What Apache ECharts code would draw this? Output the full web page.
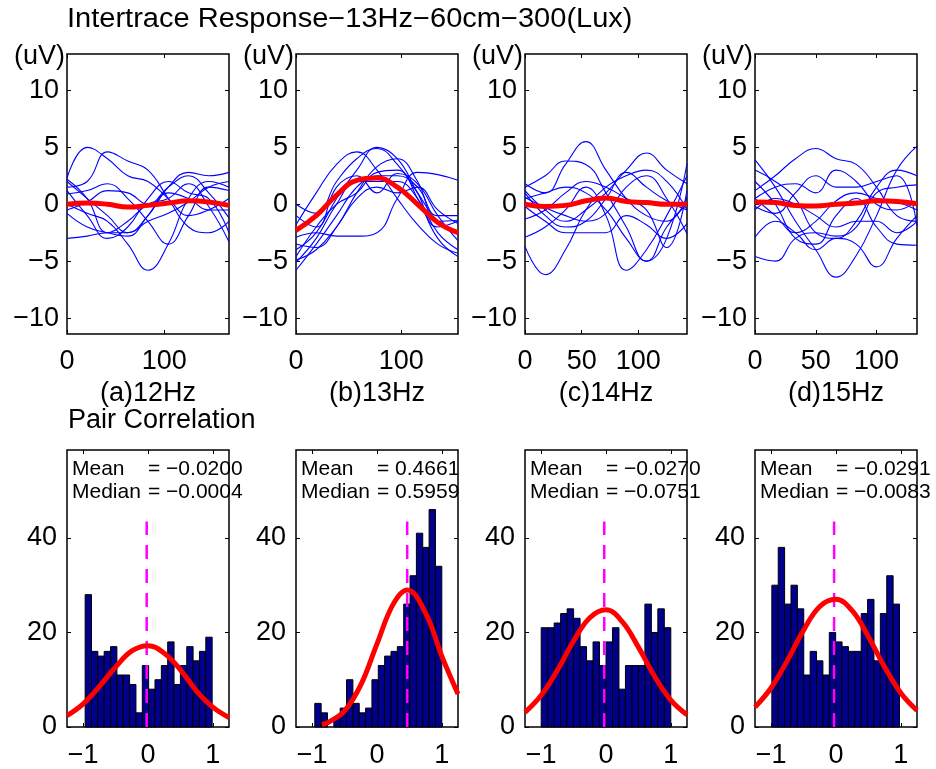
<!DOCTYPE html>
<html><head><meta charset="utf-8">
<script src="https://cdn.jsdelivr.net/npm/echarts@6/dist/echarts.min.js"></script>
<style>html,body{margin:0;padding:0;background:#fff}#c{width:936px;height:769px}</style>
</head><body><div id="c"></div>
<script>
// ---------- data ----------
const chartTitle = 'Intertrace Response\u221213Hz\u221260cm\u2212300(Lux)';
const histTitle = 'Pair Correlation';
const freqs = [12, 13, 14, 15];
const panelLetters = ['a', 'b', 'c', 'd'];
const yUnit = '(uV)';

const timeMax = [166.7, 153.8, 142.9, 133.3];
const timeTicks = [[0, 100], [0, 100], [0, 50, 100], [0, 50, 100]];
const respTicks = [-10, -5, 0, 5, 10];
const respRange = [-11.4, 13.2];

const t12 = [0, 20.8, 41.7, 62.5, 83.3, 104.2, 125, 145.8, 166.7];
const t13 = [0, 19.2, 38.5, 57.7, 76.9, 96.2, 115.4, 134.6, 153.8];
const t14 = [0, 17.9, 35.7, 53.6, 71.4, 89.3, 107.1, 125, 142.9];
const t15 = [0, 16.7, 33.3, 50, 66.7, 83.3, 100, 116.7, 133.3];

const traces12 = [
  [2.3, 5.0, 4.0, 2.5, 2.0, 0.5, -1.0, -0.5, 0.5],
  [1.5, 2.0, 4.6, 3.8, 3.0, 0.5, -2.0, -2.5, -1.5],
  [2.0, 0.5, -1.0, -2.5, -1.0, 1.5, 2.8, 2.5, 2.8],
  [0.9, 1.2, 1.8, 0.5, -1.5, -3.5, -1.0, 1.5, 1.2],
  [0.0, -0.8, -1.5, -3.5, -5.8, -3.5, 0.5, 2.0, 1.5],
  [-0.5, 0.2, 1.2, 1.0, 0.0, 1.5, 2.5, 1.0, -1.2],
  [-0.8, -2.0, -2.5, -2.8, -1.0, 1.0, 0.5, -0.5, -0.5],
  [-3.0, -2.8, -2.5, -2.5, -1.5, -0.8, 0.2, 1.5, 2.0],
  [1.2, -1.0, -3.0, -2.0, 0.5, 2.0, 1.0, 0.5, -2.5],
  [2.2, 0.5, -2.5, -1.5, 0.0, 0.5, 1.8, -0.2, -3.3]
];
const traces13 = [
  [0.0, -0.8, 2.0, 4.0, 4.9, 3.5, 1.0, -1.5, -2.5],
  [-1.8, 1.0, 3.5, 4.6, 3.0, 0.5, -1.8, -3.5, -4.3],
  [-4.0, -2.5, 0.5, 3.0, 5.0, 4.0, 1.0, -2.0, -1.5],
  [-2.9, -2.5, -2.8, -2.8, -2.5, 0.5, 2.8, 2.6, 2.1],
  [-4.6, -2.0, 0.0, 1.0, 2.8, 3.0, 0.5, -3.0, -4.6],
  [-5.8, -3.5, -1.0, 1.5, 2.5, 2.5, 1.5, -1.0, -1.0],
  [-4.9, -4.0, -2.0, 0.5, 1.5, 1.0, 1.5, -0.5, -1.7],
  [-5.1, -3.0, 0.0, 2.0, 2.0, 2.0, 0.5, -2.5, -4.0],
  [-1.0, -2.0, 1.5, 2.5, 1.0, 2.7, 1.8, -1.0, -3.2],
  [-3.5, -3.8, -2.0, 1.0, 3.3, 4.0, 2.0, -1.5, -1.4]
];
const traces14 = [
  [1.8, 1.0, 3.5, 5.5, 3.0, 0.5, -1.0, -1.5, 0.6],
  [-3.7, -6.2, -4.0, -0.5, 1.5, 2.5, 3.0, 2.0, -0.5],
  [1.5, 2.5, 3.8, 3.5, 1.0, -2.0, -5.0, -3.0, 3.6],
  [1.2, -0.5, -1.5, -0.5, 1.0, 3.0, 4.5, 3.0, 1.8],
  [-2.9, -2.0, -0.5, 1.5, -1.0, -5.8, -4.0, -1.0, 2.5],
  [0.6, -0.3, -1.0, -1.5, -0.8, 1.5, 2.5, 0.5, -2.6],
  [-0.2, -1.5, -2.5, -2.5, -2.5, -1.0, -1.8, -3.0, -1.7],
  [-1.3, -0.5, 1.0, 2.0, 1.5, 0.5, -0.5, -3.8, 1.2],
  [0.5, 1.0, 1.5, 1.0, -0.5, -3.0, -5.0, -2.0, 0.0],
  [1.0, -1.0, -2.0, -1.5, 0.5, 2.8, 1.5, 0.3, -0.5]
];
const traces15 = [
  [3.9, 1.5, -1.5, -4.0, -6.4, -4.5, -1.0, 3.0, 5.1],
  [3.0, 2.0, 0.5, -2.5, -3.0, -1.5, 1.5, 3.0, 2.5],
  [1.2, 2.5, 4.0, 4.9, 4.0, 3.5, 1.5, -1.0, -1.5],
  [-4.6, -5.0, -3.0, -2.5, -2.8, -2.0, 1.0, 1.5, 1.7],
  [-2.9, -1.5, -2.5, -4.0, -3.0, -3.5, -5.5, -3.0, -1.0],
  [0.5, 1.5, 1.8, 1.0, 3.0, 2.0, 0.0, -0.5, 0.3],
  [-0.2, -0.8, 1.0, 2.5, 1.5, 1.5, 2.0, 2.5, -1.9],
  [-0.5, 0.5, 0.0, -1.0, -2.0, -1.5, -1.5, -2.5, -1.5],
  [0.5, -1.0, -2.5, -1.5, 0.3, 1.0, 0.5, 0.2, -0.5],
  [2.0, 0.0, -3.0, -3.5, -1.0, 0.5, -2.0, -3.5, -3.6]
];
const meanResp12 = [0.0, 0.1, 0.0, -0.25, -0.1, 0.1, 0.3, 0.2, -0.1];
const meanResp13 = [-2.3, -1.0, 0.8, 2.1, 2.3, 1.5, 0.0, -1.6, -2.5];
const meanResp14 = [0.0, -0.2, -0.1, 0.3, 0.55, 0.25, 0.15, 0.0, 0.0];
const meanResp15 = [0.2, 0.15, -0.1, -0.15, 0.0, 0.1, 0.3, 0.25, 0.05];

const corrRange = [-1.25, 1.25];
const corrTicks = [-1, 0, 1];
const countTicks = [0, 20, 40];
const countRange = [0, 58.6];
const binLo = [-0.97, -0.96, -1.0, -0.99];
const binHi = [0.99, 1.0, 1.0, 0.98];
const counts12 = [28, 16, 15, 16, 17, 11, 11, 9, 3, 13, 8, 10, 13, 18, 9, 13, 17, 14, 16, 19];
const counts13 = [5, 3, 0, 2, 4, 10, 5, 3, 4, 10, 13, 15, 16, 17, 26, 32, 41, 38, 46, 34];
const counts14 = [21, 21, 22, 24, 25, 23, 17, 14, 18, 13, 18, 21, 8, 13, 13, 13, 26, 20, 25, 21];
const counts15 = [30, 38, 26, 30, 25, 11, 16, 14, 11, 20, 18, 17, 16, 16, 24, 27, 14, 24, 32, 26];

const fitX12 = [-1.25, -1.0, -0.75, -0.5, -0.25, 0, 0.25, 0.5, 0.75, 1.0, 1.25];
const fitY12 = [2.4, 4.9, 8.6, 12.7, 16.1, 17.2, 15.6, 12.1, 7.6, 4.2, 2.0];
const fitX13 = [-0.85, -0.75, -0.5, -0.25, 0, 0.25, 0.466, 0.75, 1.0, 1.25];
const fitY13 = [0.5, 1.0, 3.4, 8.9, 17.6, 26.0, 29.0, 24.1, 15.0, 7.0];
const fitX14 = [-1.25, -1.0, -0.75, -0.5, -0.25, 0, 0.25, 0.5, 0.75, 1.0, 1.25];
const fitY14 = [3.1, 6.7, 12.0, 18.2, 23.1, 24.8, 22.3, 16.9, 10.7, 5.7, 2.6];
const fitX15 = [-1.25, -1.0, -0.75, -0.5, -0.25, 0, 0.25, 0.5, 0.75, 1.0, 1.25];
const fitY15 = [4.2, 8.3, 14.1, 20.5, 25.5, 27.0, 24.6, 19.1, 12.7, 7.2, 3.5];

const meanCorr = [-0.0200, 0.4661, -0.0270, -0.0291];
const medianCorr = [-0.0004, 0.5959, -0.0751, -0.0083];
const meanLineTop = 43.5;

// ---------- build ----------
const times = [t12, t13, t14, t15];
const traces = [traces12, traces13, traces14, traces15];
const meanResp = [meanResp12, meanResp13, meanResp14, meanResp15];
const counts = [counts12, counts13, counts14, counts15];
const fitX = [fitX12, fitX13, fitX14, fitX15];
const fitY = [fitY12, fitY13, fitY14, fitY15];

const FONT = 'Liberation Sans, Arial, Helvetica, sans-serif';
const FS = 27;
const SFS = 21;
const lefts = [67, 296, 525, 755];
const W = 162, H = 280;
const topT = 54, topB = 450;
const minus = s => String(s).replace(/-/g, '\u2212');

const grid = [], xAxis = [], yAxis = [], series = [], graphic = [];

function addAxes(gi, xmin, xmax, xt, ymin, ymax, yt, xMargin, yMargin) {
  const tick = {inside: true, length: 4, lineStyle: {color: '#000', width: 1}};
  const common = {type: 'value', gridIndex: gi, axisLine: {show: false, onZero: false}, splitLine: {show: false}};
  xAxis.push(Object.assign({}, common, {
    min: xmin, max: xmax, position: 'bottom',
    axisTick: Object.assign({}, tick, {customValues: xt}),
    axisLabel: {customValues: xt, fontSize: FS, fontFamily: FONT, color: '#000', margin: xMargin, formatter: v => minus(v)}
  }));
  xAxis.push(Object.assign({}, common, {
    min: xmin, max: xmax, position: 'top',
    axisTick: Object.assign({}, tick, {customValues: xt}),
    axisLabel: {show: false}
  }));
  yAxis.push(Object.assign({}, common, {
    min: ymin, max: ymax, position: 'left',
    axisTick: Object.assign({}, tick, {customValues: yt}),
    axisLabel: {customValues: yt, fontSize: FS, fontFamily: FONT, color: '#000', margin: yMargin, formatter: v => minus(v)}
  }));
  yAxis.push(Object.assign({}, common, {
    min: ymin, max: ymax, position: 'right',
    axisTick: Object.assign({}, tick, {customValues: yt}),
    axisLabel: {show: false}
  }));
}

for (let p = 0; p < 4; p++) {
  // ---- top panel ----
  const gi = p * 2;
  grid.push({left: lefts[p], top: topT, width: W, height: H, show: true, borderColor: '#000', borderWidth: 1.5, backgroundColor: '#fff'});
  addAxes(gi, 0, timeMax[p], timeTicks[p], respRange[0], respRange[1], respTicks, 14, 8);
  const xi = gi * 2, yi = gi * 2;
  traces[p].forEach(tr => {
    series.push({type: 'line', xAxisIndex: xi, yAxisIndex: yi, smooth: 0.45, symbol: 'none', silent: true,
      data: tr.map((v, k) => [times[p][k], v]), lineStyle: {color: '#0000ff', width: 1.1}, z: 2});
  });
  series.push({type: 'line', xAxisIndex: xi, yAxisIndex: yi, smooth: 0.45, symbol: 'none', silent: true,
    data: meanResp[p].map((v, k) => [times[p][k], v]), lineStyle: {color: '#ff0000', width: 5}, z: 3});

  // ---- bottom panel ----
  const gj = p * 2 + 1;
  grid.push({left: lefts[p], top: topB, width: W, height: H, show: true, borderColor: '#000', borderWidth: 1.5, backgroundColor: '#fff'});
  addAxes(gj, corrRange[0], corrRange[1], corrTicks, countRange[0], countRange[1], countTicks, 15, 10);
  const xj = gj * 2, yj = gj * 2;
  const n = counts[p].length, bw = (binHi[p] - binLo[p]) / n;
  series.push({
    type: 'custom', xAxisIndex: xj, yAxisIndex: yj, silent: true, z: 2,
    encode: {x: [0, 1], y: 2},
    data: counts[p].map((c, k) => [binLo[p] + k * bw, binLo[p] + (k + 1) * bw, c]),
    renderItem: (params, api) => {
      const c = api.value(2);
      if (!c) return null;
      const a = api.coord([api.value(0), c]);
      const b = api.coord([api.value(1), 0]);
      return {type: 'rect', shape: {x: a[0], y: a[1], width: b[0] - a[0], height: b[1] - a[1]},
        style: {fill: '#00008c', stroke: '#000', lineWidth: 1}};
    }
  });
  series.push({type: 'line', xAxisIndex: xj, yAxisIndex: yj, symbol: 'none', silent: true, z: 3,
    data: [[meanCorr[p], 0], [meanCorr[p], meanLineTop]],
    lineStyle: {color: '#ff00ff', width: 2.5, type: [14, 10]}});
  series.push({type: 'line', xAxisIndex: xj, yAxisIndex: yj, smooth: 0.4, symbol: 'none', silent: true, z: 4,
    data: fitX[p].map((x, k) => [x, fitY[p][k]]), lineStyle: {color: '#ff0000', width: 5}});

  // ---- texts ----
  graphic.push({type: 'text', x: lefts[p] - 2, y: 57, style: {text: yUnit, font: FS + 'px ' + FONT, fill: '#000', textAlign: 'right', textVerticalAlign: 'middle'}});
  graphic.push({type: 'text', x: lefts[p] + W / 2, y: 394, style: {text: '(' + panelLetters[p] + ')' + freqs[p] + 'Hz', font: FS + 'px ' + FONT, fill: '#000', textAlign: 'center', textVerticalAlign: 'middle'}});
  graphic.push({type: 'text', x: lefts[p] + 5, y: 469, z: 10, style: {text: 'Mean', font: SFS + 'px ' + FONT, fill: '#000', textAlign: 'left', textVerticalAlign: 'middle'}});
  graphic.push({type: 'text', x: lefts[p] + 81, y: 469, z: 10, style: {text: '= ' + minus(meanCorr[p].toFixed(4)), font: SFS + 'px ' + FONT, fill: '#000', textAlign: 'left', textVerticalAlign: 'middle'}});
  graphic.push({type: 'text', x: lefts[p] + 5, y: 492, z: 10, style: {text: 'Median', font: SFS + 'px ' + FONT, fill: '#000', textAlign: 'left', textVerticalAlign: 'middle'}});
  graphic.push({type: 'text', x: lefts[p] + 81, y: 492, z: 10, style: {text: '= ' + minus(medianCorr[p].toFixed(4)), font: SFS + 'px ' + FONT, fill: '#000', textAlign: 'left', textVerticalAlign: 'middle'}});
}
graphic.push({type: 'text', x: 67, y: 20, scaleX: 1.075, style: {text: chartTitle, font: FS + 'px ' + FONT, fill: '#000', textAlign: 'left', textVerticalAlign: 'middle'}});
graphic.push({type: 'text', x: 68, y: 421, style: {text: histTitle, font: FS + 'px ' + FONT, fill: '#000', textAlign: 'left', textVerticalAlign: 'middle'}});

const chart = echarts.init(document.getElementById('c'), null, {renderer: 'canvas'});
chart.setOption({animation: false, backgroundColor: '#fff', grid, xAxis, yAxis, series, graphic});
</script></body></html>
